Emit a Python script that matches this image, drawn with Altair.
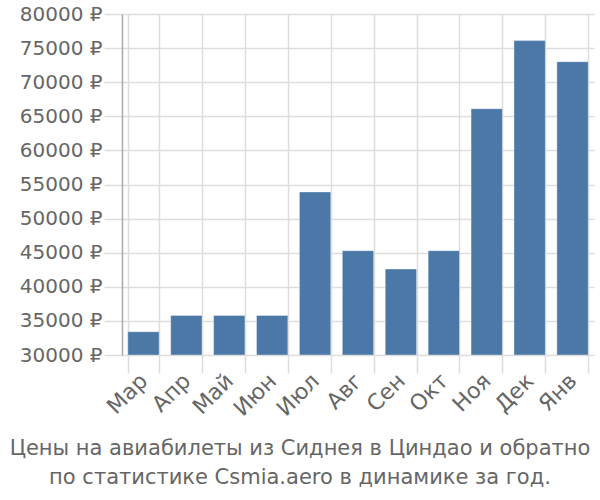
import altair as alt
import pandas as pd

months = ["Мар", "Апр", "Май", "Июн", "Июл", "Авг", "Сен", "Окт", "Ноя", "Дек", "Янв"]
prices = [33400, 35800, 35800, 35800, 53900, 45300, 42600, 45300, 66100, 76100, 73000]
y_ticks = [30000, 35000, 40000, 45000, 50000, 55000, 60000, 65000, 70000, 75000, 80000]
title_lines = ["Цены на авиабилеты из Сиднея в Циндао и обратно",
               "по статистике Csmia.aero в динамике за год."]

df = pd.DataFrame({"month": months, "price": prices, "base": [30000] * len(months)})

FONT = "DejaVu Sans"
GRID = "#dddddd"
LABEL = "#666666"

chart = alt.Chart(df).mark_bar(
    color="#4c78a8", stroke="#ffffff", strokeOpacity=0.35, strokeWidth=1, clip=True
).encode(
    x=alt.X("month:N", sort=months, title=None,
            scale=alt.Scale(paddingInner=0.27, paddingOuter=0.135),
            axis=alt.Axis(labelAngle=-45, labelFontSize=22, labelColor=LABEL, labelFont=FONT,
                          labelAlign="right", labelBaseline="middle",
                          tickBand="extent", grid=True, gridColor=GRID, gridWidth=1.5,
                          tickColor=GRID, tickSize=18, tickWidth=1.5, domain=False,
                          labelPadding=4)),
    y=alt.Y("price:Q", title=None,
            scale=alt.Scale(domain=[30000, 80000], zero=False, nice=False),
            axis=alt.Axis(values=y_ticks, labelExpr="datum.value + ' ₽'",
                          labelFontSize=20, labelColor=LABEL, labelFont=FONT,
                          grid=True, gridColor=GRID, gridWidth=1.5,
                          tickColor=GRID, tickSize=18, tickWidth=1.5,
                          domain=True, domainColor="#aaaaaa", domainWidth=1.5,
                          labelPadding=2)),
    y2="base:Q",
).properties(
    width=472, height=341,
    title=alt.TitleParams(title_lines, orient="bottom", anchor="middle", fontSize=21,
                          font=FONT, color=LABEL, fontWeight="normal", offset=18,
                          lineHeight=29, dx=-58),
    autosize=alt.AutoSizeParams(type="none"),
    padding={"left": 122, "top": 14, "right": 6, "bottom": 145},
).configure_view(stroke=None)

chart.save("out.html", embed_options={"renderer": "svg", "actions": False})
